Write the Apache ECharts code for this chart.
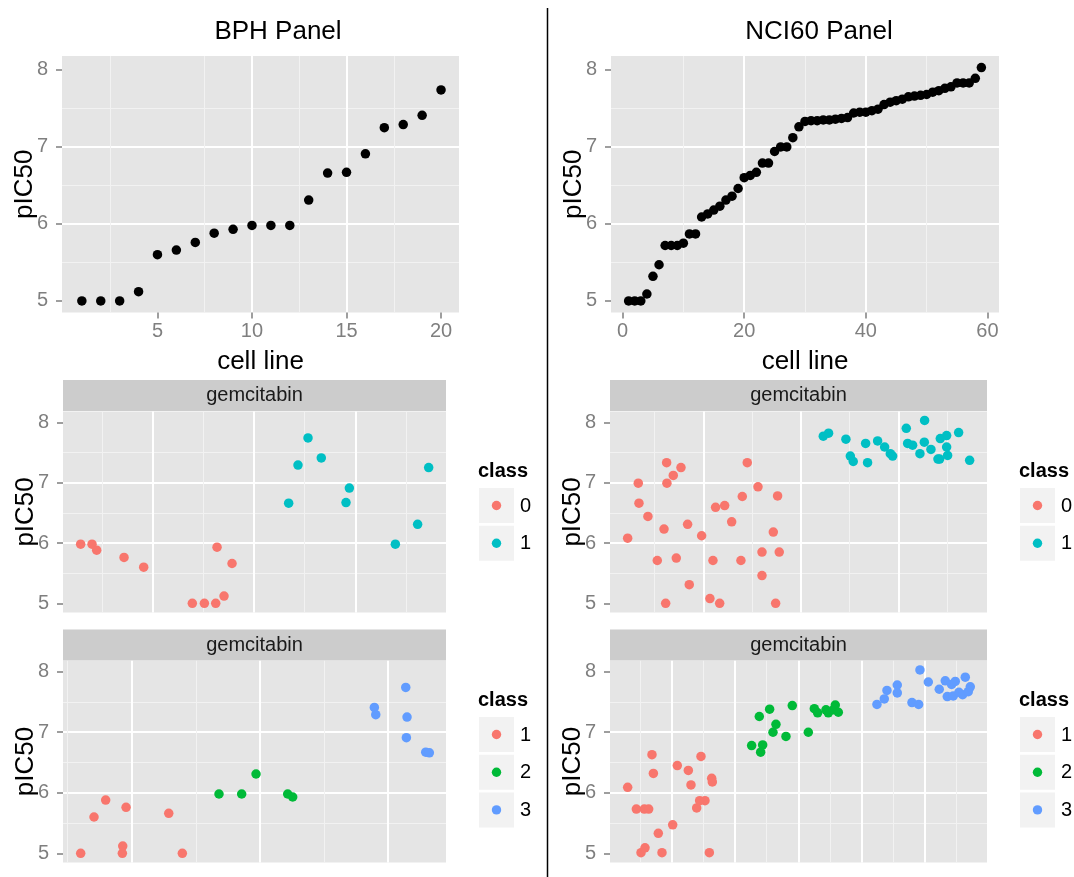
<!DOCTYPE html>
<html>
<head>
<meta charset="utf-8">
<script src="https://cdn.jsdelivr.net/npm/echarts@6/dist/echarts.min.js"></script>
<style>
html, body { margin: 0; padding: 0; background: #fff; }
#main { width: 1074px; height: 877px; }
</style>
</head>
<body>
<div id="main"></div>
<script>
// top panels: pIC50 sorted by cell line
var bphCellLine = [1, 2, 3, 4, 5, 6, 7, 8, 9, 10, 11, 12, 13, 14, 15, 16, 17, 18, 19, 20];
var bphPic50 = [5.00, 5.00, 5.00, 5.12, 5.60, 5.66, 5.76, 5.88, 5.93, 5.98, 5.98, 5.98, 6.31, 6.66, 6.67, 6.91, 7.25, 7.29, 7.41, 7.74];

var nciCellLine = [1, 2, 3, 4, 5, 6, 7, 8, 9, 10, 11, 12, 13, 14, 15, 16, 17, 18, 19, 20,
    21, 22, 23, 24, 25, 26, 27, 28, 29, 30, 31, 32, 33, 34, 35, 36, 37, 38, 39, 40,
    41, 42, 43, 44, 45, 46, 47, 48, 49, 50, 51, 52, 53, 54, 55, 56, 57, 58, 59];
var nciPic50 = [5.00, 5.00, 5.00, 5.09, 5.32, 5.47, 5.72, 5.72, 5.72, 5.75, 5.87, 5.87, 6.09, 6.13, 6.18, 6.23, 6.31, 6.36, 6.46, 6.60,
    6.63, 6.67, 6.79, 6.79, 6.94, 7.00, 7.00, 7.12, 7.26, 7.33, 7.34, 7.34, 7.35, 7.35, 7.36, 7.37, 7.38, 7.44, 7.45, 7.45,
    7.47, 7.49, 7.55, 7.58, 7.60, 7.62, 7.65, 7.66, 7.67, 7.68, 7.71, 7.73, 7.76, 7.78, 7.83, 7.83, 7.83, 7.89, 8.03];

// middle panels: two classes (x is unlabeled jitter position)
var bphClass0 = [[0.289, 5.98], [0.401, 5.98], [0.447, 5.88], [0.717, 5.76], [0.911, 5.60], [1.391, 5.00],
    [1.510, 5.00], [1.622, 5.00], [1.704, 5.12], [1.635, 5.93], [1.783, 5.66]];
var bphClass1 = [[2.342, 6.66], [2.434, 7.29], [2.533, 7.74], [2.664, 7.41], [2.941, 6.91], [2.908, 6.67],
    [3.395, 5.98], [3.615, 6.31], [3.724, 7.25]];

var nciClass0 = [[0.224, 6.08], [0.333, 6.99], [0.340, 6.66], [0.432, 6.44], [0.624, 7.33], [0.627, 6.99],
    [0.692, 7.12], [0.771, 7.25], [0.597, 6.23], [0.528, 5.71], [0.723, 5.75], [0.614, 5.00], [0.839, 6.31],
    [0.856, 5.31], [0.983, 6.12], [1.126, 6.59], [1.219, 6.62], [1.291, 6.35], [1.099, 5.71], [1.068, 5.08],
    [1.168, 5.00], [1.400, 6.77], [1.451, 7.33], [1.561, 6.93], [1.386, 5.71], [1.602, 5.85], [1.602, 5.46],
    [1.718, 6.18], [1.762, 6.78], [1.779, 5.85], [1.742, 5.00]];
var nciClass1 = [[2.231, 7.77], [2.285, 7.82], [2.463, 7.72], [2.508, 7.44], [2.538, 7.35], [2.665, 7.65],
    [2.685, 7.33], [2.788, 7.69], [2.860, 7.59], [2.918, 7.48], [2.942, 7.44], [3.082, 7.90], [3.096, 7.65],
    [3.147, 7.62], [3.270, 8.03], [3.267, 7.67], [3.222, 7.48], [3.335, 7.55], [3.407, 7.39], [3.424, 7.39],
    [3.431, 7.73], [3.496, 7.78], [3.496, 7.59], [3.506, 7.45], [3.619, 7.83], [3.732, 7.37]];

// bottom panels: three classes
var bphGroup1 = [[0.602, 5.00], [0.706, 5.60], [0.797, 5.88], [0.927, 5.00], [0.930, 5.12], [0.956, 5.76],
    [1.289, 5.66], [1.395, 5.00]];
var bphGroup2 = [[1.681, 5.98], [1.858, 5.98], [1.970, 6.31], [2.217, 5.98], [2.256, 5.93]];
var bphGroup3 = [[2.893, 7.41], [2.904, 7.29], [3.138, 7.74], [3.148, 7.25], [3.143, 6.91], [3.294, 6.67], [3.322, 6.66]];

var nciGroup1 = [[0.305, 6.09], [0.442, 5.73], [0.568, 5.73], [0.637, 5.73], [0.516, 5.01], [0.579, 5.09],
    [0.847, 5.01], [0.789, 5.33], [1.016, 5.47], [0.689, 6.63], [0.711, 6.32], [1.089, 6.45], [1.263, 6.37],
    [1.305, 6.13], [1.463, 6.60], [1.395, 5.75], [1.442, 5.87], [1.526, 5.87], [1.632, 6.24], [1.642, 6.18],
    [1.595, 5.01]];
var nciGroup2 = [[2.263, 6.78], [2.437, 6.79], [2.405, 6.67], [2.384, 7.26], [2.547, 7.38], [2.647, 7.13],
    [2.600, 7.00], [2.805, 6.93], [2.905, 7.44], [3.158, 7.00], [3.253, 7.39], [3.305, 7.32], [3.437, 7.37],
    [3.474, 7.32], [3.584, 7.45], [3.553, 7.37], [3.632, 7.33]];
var nciGroup3 = [[4.242, 7.46], [4.358, 7.55], [4.400, 7.69], [4.563, 7.78], [4.563, 7.65], [4.795, 7.49],
    [4.900, 7.46], [4.921, 8.03], [5.053, 7.83], [5.226, 7.71], [5.321, 7.85], [5.421, 7.79], [5.479, 7.84],
    [5.353, 7.59], [5.447, 7.60], [5.537, 7.66], [5.595, 7.62], [5.637, 7.91], [5.684, 7.67], [5.716, 7.75]];

var yTicks = [5, 6, 7, 8];
var bphTicks = [5, 10, 15, 20];
var nciTicks = [0, 20, 40, 60];

var FONT = "'Liberation Sans', Arial, Helvetica, sans-serif";
var GREY = '#7F7F7F';
var col2 = ['#F8766D', '#00BFC4'];
var col3 = ['#F8766D', '#00BA38', '#619CFF'];

var myChart = echarts.init(document.getElementById('main'));

function gridAt(left, top, width, height) {
    return {
        left: left, top: top, width: width, height: height,
        show: true, backgroundColor: '#E5E5E5', borderWidth: 0,
        containLabel: false, outerBoundsMode: 'none'
    };
}

function gridLines(axis) {
    axis.splitLine = { show: true, showMinLine: false, showMaxLine: false, lineStyle: { color: '#fff', width: 2 } };
    axis.minorTick = { show: false, splitNumber: 2 };
    axis.minorSplitLine = { show: true, lineStyle: { color: '#F2F2F2', width: 1 } };
    return axis;
}

function yAxisFor(idx) {
    return gridLines({
        type: 'value', gridIndex: idx, min: 4.85, max: 8.18, minInterval: 1, maxInterval: 1,
        name: 'pIC50', nameLocation: 'middle', nameGap: 24, nameMoveOverlap: false,
        nameTextStyle: { color: '#000', fontSize: 26, fontFamily: FONT },
        axisLine: { show: false, onZero: false },
        axisTick: { show: true, length: 6, customValues: yTicks, lineStyle: { color: GREY, width: 1.5 } },
        axisLabel: { customValues: yTicks, color: GREY, fontSize: 20, margin: 14, fontFamily: FONT }
    });
}

function topXAxis(idx, min, max, step, ticks) {
    return gridLines({
        type: 'value', gridIndex: idx, min: min, max: max, minInterval: step, maxInterval: step,
        name: 'cell line', nameLocation: 'middle', nameGap: 36, nameMoveOverlap: false,
        nameTextStyle: { color: '#000', fontSize: 26, fontFamily: FONT },
        axisLine: { show: false, onZero: false },
        axisTick: { show: true, length: 6, customValues: ticks, lineStyle: { color: GREY, width: 1.5 } },
        axisLabel: { customValues: ticks, color: GREY, fontSize: 20, margin: 9, fontFamily: FONT }
    });
}

function blankXAxis(idx, min, max) {
    return gridLines({
        type: 'value', gridIndex: idx, min: min, max: max, minInterval: 1, maxInterval: 1,
        axisLine: { show: false, onZero: false },
        axisTick: { show: false },
        axisLabel: { show: false }
    });
}

function dots(name, idx, data, color) {
    return {
        name: name, type: 'scatter', xAxisIndex: idx, yAxisIndex: idx,
        data: data, symbolSize: 9.5,
        itemStyle: { color: color, opacity: 1 },
        emphasis: { disabled: true }, silent: true
    };
}

function zip(xs, ys) {
    var out = [];
    for (var i = 0; i < xs.length; i++) out.push([xs[i], ys[i]]);
    return out;
}

function label(x, y, text, size, opts) {
    opts = opts || {};
    return {
        type: 'text', x: x, y: y, silent: true,
        style: {
            text: text, fontSize: size, fontFamily: FONT, fontWeight: opts.bold ? 'bold' : 'normal',
            fill: opts.fill || '#000', align: opts.align || 'center', verticalAlign: 'middle'
        }
    };
}

function strip(x, y, w) {
    return [
        { type: 'rect', silent: true, shape: { x: x, y: y, width: w, height: 31 }, style: { fill: '#CCCCCC' } },
        label(x + w / 2, y + 15.5, 'gemcitabin', 20, { fill: '#1A1A1A' })
    ];
}

function legendBox(x, titleY, names, colors) {
    var els = [label(x - 1, titleY, 'class', 20, { bold: true, align: 'left' })];
    for (var i = 0; i < names.length; i++) {
        var top = titleY + 17 + i * 37.7;
        els.push({ type: 'rect', silent: true, shape: { x: x, y: top, width: 35, height: 35 }, style: { fill: '#F2F2F2' } });
        els.push({ type: 'circle', silent: true, shape: { cx: x + 17.5, cy: top + 17.5, r: 4.7 }, style: { fill: colors[i] } });
        els.push(label(x + 41, top + 18, names[i], 20, { align: 'left' }));
    }
    return els;
}

var graphics = [
    label(278, 32, 'BPH Panel', 26),
    label(819, 32, 'NCI60 Panel', 26),
    { type: 'line', silent: true, shape: { x1: 547.5, y1: 8, x2: 547.5, y2: 877 }, style: { stroke: '#000', lineWidth: 1.5 } }
]
    .concat(strip(63, 380, 383)).concat(strip(610, 380, 377))
    .concat(strip(63, 629.5, 383)).concat(strip(610, 629.5, 377))
    .concat(legendBox(479, 471, ['0', '1'], col2))
    .concat(legendBox(1020, 471, ['0', '1'], col2))
    .concat(legendBox(479, 700, ['1', '2', '3'], col3))
    .concat(legendBox(1020, 700, ['1', '2', '3'], col3));

var option = {
    backgroundColor: '#fff',
    animation: false,
    grid: [
        gridAt(62, 56, 397, 256.5),
        gridAt(611, 56, 388, 256.5),
        gridAt(63, 411.4, 383, 201),
        gridAt(610, 411.4, 377, 201),
        gridAt(63, 660.8, 383, 201.6),
        gridAt(610, 660.8, 377, 201.6)
    ],
    xAxis: [
        topXAxis(0, -0.05, 20.95, 5, bphTicks),
        topXAxis(1, -1.9, 61.9, 20, nciTicks),
        blankXAxis(2, 0.1145, 3.895),
        blankXAxis(3, 0.043, 3.91),
        blankXAxis(4, 0.464, 3.452),
        blankXAxis(5, 0.026, 5.98)
    ],
    yAxis: [yAxisFor(0), yAxisFor(1), yAxisFor(2), yAxisFor(3), yAxisFor(4), yAxisFor(5)],
    series: [
        dots('BPH', 0, zip(bphCellLine, bphPic50), '#000'),
        dots('NCI60', 1, zip(nciCellLine, nciPic50), '#000'),
        dots('0', 2, bphClass0, col2[0]),
        dots('1', 2, bphClass1, col2[1]),
        dots('0', 3, nciClass0, col2[0]),
        dots('1', 3, nciClass1, col2[1]),
        dots('1', 4, bphGroup1, col3[0]),
        dots('2', 4, bphGroup2, col3[1]),
        dots('3', 4, bphGroup3, col3[2]),
        dots('1', 5, nciGroup1, col3[0]),
        dots('2', 5, nciGroup2, col3[1]),
        dots('3', 5, nciGroup3, col3[2])
    ],
    graphic: graphics
};

myChart.setOption(option);
</script>
</body>
</html>
